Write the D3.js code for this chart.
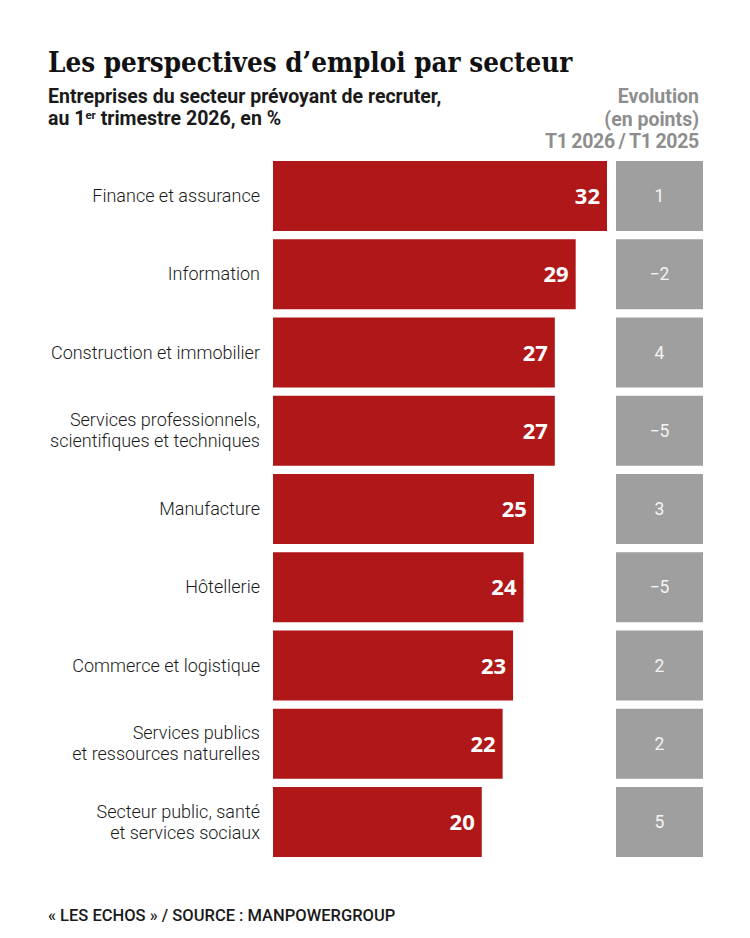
<!DOCTYPE html>
<html>
<head>
<meta charset="utf-8">
<script src="https://cdn.jsdelivr.net/npm/d3@7"></script>
<style>
  body { margin: 0; background: #fff; }
  svg { display: block; }
</style>
</head>
<body>
<svg id="chart"></svg>
<script>
// données : part des entreprises prévoyant de recruter (T1 2026) et évolution en points
const categories = [
  ["Finance et assurance"],
  ["Information"],
  ["Construction et immobilier"],
  ["Services professionnels,", "scientifiques et techniques"],
  ["Manufacture"],
  ["Hôtellerie"],
  ["Commerce et logistique"],
  ["Services publics", "et ressources naturelles"],
  ["Secteur public, santé", "et services sociaux"]
];
const values = [32, 29, 27, 27, 25, 24, 23, 22, 20];
const evolution = [1, -2, 4, -5, 3, -5, 2, 2, 5];
const evoHeader = ["Evolution", "(en points)", "T1\u20092026\u2009/\u2009T1\u20092025"];

const width = 750, height = 938;
const red = "#b01718", grey = "#9f9f9f";

const svg = d3.select("#chart")
  .attr("width", width)
  .attr("height", height);

// titre
svg.append("text")
  .attr("x", 48)
  .attr("y", 72)
  .style("font-family", "'DejaVu Serif', serif")
  .style("font-stretch", "condensed")
  .style("font-weight", "bold")
  .style("font-size", "27.5px")
  .attr("fill", "#111")
  .text("Les perspectives d\u2019emploi par secteur");

// sous-titre
const sub = svg.append("g")
  .style("font-family", "Roboto, sans-serif")
  .style("font-weight", "bold")
  .style("font-size", "19.5px")
  .attr("fill", "#1a1a1a");

sub.append("text").attr("x", 48).attr("y", 103)
  .text("Entreprises du secteur prévoyant de recruter,");

const l2 = sub.append("text").attr("x", 48).attr("y", 125);
l2.append("tspan").text("au 1");
l2.append("tspan").attr("dy", -6).style("font-size", "11.5px").text("er");
l2.append("tspan").attr("dy", 6).text(" trimestre 2026, en %");

// en-tête colonne évolution
svg.append("g")
  .style("font-family", "Roboto, sans-serif")
  .style("font-weight", "bold")
  .style("font-size", "19.5px")
  .attr("fill", "#8e8e8e")
  .attr("text-anchor", "end")
  .selectAll("text")
  .data(evoHeader)
  .join("text")
  .attr("x", 699)
  .attr("y", (d, i) => 103 + i * 22.5)
  .style("letter-spacing", (d, i) => i === 2 ? "-0.3px" : null)
  .text(d => d);

// échelles
const x = d3.scaleLinear()
  .domain([0, 32])
  .range([273, 607]);

const y = d3.scaleBand()
  .domain(d3.range(values.length))
  .range([161, 857])
  .paddingInner(8.25 / 78.25)
  .paddingOuter(0);

const rows = svg.append("g")
  .selectAll("g")
  .data(values.map((v, i) => ({ v, i, label: categories[i], evo: evolution[i] })))
  .join("g");

// barres rouges
rows.append("rect")
  .attr("x", x(0))
  .attr("y", d => y(d.i))
  .attr("width", d => x(d.v) - x(0))
  .attr("height", y.bandwidth())
  .attr("fill", red);

// valeurs
rows.append("text")
  .attr("x", d => x(d.v) - 7)
  .attr("y", d => y(d.i) + y.bandwidth() / 2 + 8)
  .attr("text-anchor", "end")
  .style("font-family", "'Open Sans', sans-serif")
  .style("font-weight", "bold")
  .style("font-size", "22px")
  .attr("fill", "#fff")
  .text(d => d.v);

// cases grises
rows.append("rect")
  .attr("x", 616)
  .attr("y", d => y(d.i))
  .attr("width", 87)
  .attr("height", y.bandwidth())
  .attr("fill", grey);

rows.append("text")
  .attr("x", 659.5)
  .attr("y", d => y(d.i) + y.bandwidth() / 2 + 6)
  .attr("text-anchor", "middle")
  .style("font-family", "Roboto, sans-serif")
  .style("font-size", "17.5px")
  .attr("fill", "#f4f4f4")
  .text(d => d.evo < 0 ? "\u2212" + Math.abs(d.evo) : d.evo);

// libellés des secteurs
rows.append("text")
  .attr("text-anchor", "end")
  .style("font-family", "Roboto, sans-serif")
  .style("font-weight", "300")
  .style("font-size", "18px")
  .attr("fill", "#1a1a1a")
  .each(function (d) {
    const t = d3.select(this);
    const c = y(d.i) + y.bandwidth() / 2;
    const n = d.label.length;
    d.label.forEach((line, k) => {
      t.append("tspan")
        .attr("x", 260)
        .attr("y", c + 6 + (k - (n - 1) / 2) * 21)
        .text(line);
    });
  });

// source
svg.append("text")
  .attr("x", 48)
  .attr("y", 921)
  .style("font-family", "Roboto, sans-serif")
  .style("font-weight", "500")
  .style("font-size", "16.5px")
  .attr("fill", "#1a1a1a")
  .text("« LES ECHOS » / SOURCE : MANPOWERGROUP");
</script>
</body>
</html>
